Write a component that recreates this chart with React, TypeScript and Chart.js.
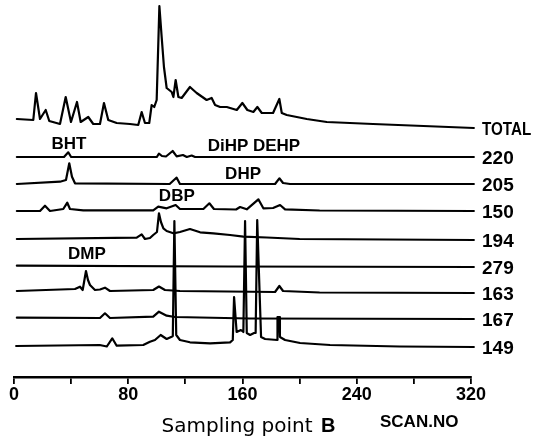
import { useEffect, useRef } from 'react';
import { Chart, registerables } from 'chart.js';

Chart.register(...registerables);

// Trace names (right-hand labels), top to bottom
const traceNames = ['TOTAL', '220', '205', '150', '194', '279', '163', '167', '149'];
// Baseline offset of each stacked trace (y units)
const traceOffsets = [249, 220, 193, 166, 137, 110, 84, 58, 30];

// [scan no, intensity above baseline]
const totalTrace = [[2,9],[13.5,8],[15.4,35],[18.2,9],[22.2,18],[24.7,7],[32.2,4],[36.2,31],[39.9,6],[44.1,26],[46.7,6],[52,11],[55.5,4],[60.2,4],[63,25],[66,8],[71.9,5],[81.2,4],[87,3],[89.4,16],[91.7,5],[94.7,5],[96.4,23],[98.2,21],[99.9,28],[101.8,122],[103.4,91],[105,61],[106.9,40],[110.4,36],[111.6,31],[113.2,48],[115.1,31],[117.4,30],[123.2,41],[127.9,35],[134.9,28],[138.4,30],[140.8,23],[144.3,21],[149,21],[156,18],[159.9,25],[163.4,18],[167.6,16],[170.4,21],[173.5,15],[181.4,15],[185.8,29],[187.5,15],[191,13],[205,9],[219,6],[251.4,4],[322,0]];
const trace220 = [[2,0],[35,0],[38,4.7],[40,0],[100,0],[101.5,3.3],[103.6,1],[106.4,0.5],[111.1,6],[113.9,0.7],[118.3,2],[121,0],[124.4,1.5],[126.8,0],[322,0]];
const trace205 = [[2,0],[32.2,2.3],[36.4,4],[38.7,20.7],[40.6,7.3],[42.7,0.7],[109,0],[112,4],[113.9,6.3],[116.2,0],[182.8,0],[185.8,5.7],[188.4,1],[193.3,0],[322,0]];
const trace150 = [[2,0],[18.2,0],[21.7,5.3],[25.2,0],[34.5,2],[37.3,8.3],[39.2,2],[48.5,0.7],[97.5,0.7],[101,4.3],[106.9,2.7],[113.2,6],[116.2,2],[132.6,2],[136.8,7.7],[140,2],[155.5,1.5],[158.3,4],[163,1.7],[171.1,11.7],[174.6,2.7],[181.4,3],[186.3,6],[189.8,1.7],[214,0.5],[322,0]];
const trace194 = [[2,1],[85.9,2.3],[89.4,5.7],[91.7,1],[95.2,2],[97.5,5],[100.1,8],[101.5,26.7],[102.9,18],[104.6,11.7],[106.9,9],[111.6,6.7],[116.2,8],[123.2,11],[130.3,7.7],[139.6,6.7],[151.3,5],[160.6,3.3],[177,2.5],[200,1],[322,0]];
const trace279 = [[2,1.3],[150,0.5],[322,0]];
const trace163 = [[2,2],[42.7,4],[46.2,6.3],[48.1,3],[50.4,22],[51.8,13],[53.2,8],[56.7,3],[60.2,3.5],[63.7,5.3],[67.2,2],[97.5,3],[101.5,6.5],[105.7,3],[116.2,2],[182.8,1],[185.8,7],[188.4,2],[214,0.5],[322,0]];
const trace167 = [[2,1.3],[60.2,1],[63.7,5.7],[67.2,1],[97.5,2.3],[101.5,7.3],[106.9,3.3],[112.7,2],[165,0.5],[322,0]];
const trace149 = [[1.5,1],[60,2],[65,0.5],[68.8,8.7],[71.9,1.3],[90.5,2],[95.2,5.3],[98.7,7],[102.7,12],[106.9,8],[110.4,10.3],[111.2,11],[112.3,126],[113.6,12],[116.2,7],[123.2,4.7],[137.3,3.7],[151.3,4.7],[153.2,7],[154.1,50],[155.9,15],[158.9,17],[160.6,15],[161.8,126],[163,14],[165.3,12],[168.1,14],[169.2,14],[170.3,127],[173,10],[175.8,8],[184.3,7],[184.5,30],[185.6,30],[186.2,10],[189.8,7],[200.3,4],[221.3,2],[270,0.5],[322,0]];

const traces = [totalTrace, trace220, trace205, trace150, trace194, trace279, trace163, trace167, trace149];

// Compound annotations: text, scan no, trace index
const peakTexts = ['BHT', 'DiHP DEHP', 'DHP', 'DBP', 'DMP'];
const peakScans = [38.5, 168, 160.4, 114, 51];
const peakTraceIdx = [1, 1, 2, 3, 5];
const peakLift = [13, 11, 10, 15, 13];

// X axis ticks
const xMin = 0;
const xMax = 320;
const xStep = 40;
const xLabelEvery = 80;

const bold = (size: number) => `bold ${size}px "Liberation Sans", Arial, sans-serif`;

const labelPlugin = {
  id: 'chromLabels',
  afterDraw(chart: any) {
    const { ctx, scales, chartArea } = chart;
    const x = scales.x;
    const y = scales.y;
    ctx.save();
    ctx.fillStyle = '#000';
    ctx.textBaseline = 'middle';
    ctx.textAlign = 'left';
    // right-hand trace labels
    traceNames.forEach((name, i) => {
      const py = y.getPixelForValue(traceOffsets[i]) + 1.5;
      ctx.font = bold(19);
      if (name === 'TOTAL') {
        ctx.save();
        ctx.translate(chartArea.right + 11, py);
        ctx.scale(0.8, 1);
        ctx.fillText(name, 0, 0);
        ctx.restore();
      } else {
        ctx.fillText(name, chartArea.right + 11, py);
      }
    });
    // compound labels
    ctx.textAlign = 'center';
    ctx.font = bold(17);
    peakTexts.forEach((t, i) => {
      const px = x.getPixelForValue(peakScans[i]);
      const py = y.getPixelForValue(traceOffsets[peakTraceIdx[i]]) - peakLift[i];
      ctx.fillText(t, px, py);
    });
    // bottom captions
    ctx.textAlign = 'left';
    ctx.textBaseline = 'alphabetic';
    ctx.font = '20px "DejaVu Sans", sans-serif';
    ctx.fillText('Sampling point', 161.5, 431.5);
    ctx.font = bold(20);
    ctx.fillText('B', 321, 432);
    ctx.font = bold(17);
    ctx.fillText('SCAN.NO', 380, 426.5);
    ctx.restore();
  },
};

export default function App() {
  const ref = useRef<HTMLCanvasElement>(null);
  useEffect(() => {
    const datasets = traces.map((t, i) => ({
      label: traceNames[i],
      data: t.map(([s, v]) => ({ x: s, y: traceOffsets[i] + v })),
      borderColor: '#000',
      backgroundColor: '#000',
      borderWidth: 2.2,
      borderJoinStyle: 'round' as const,
      borderCapStyle: 'round' as const,
      pointRadius: 0,
      tension: 0,
      fill: false,
      clip: false as const,
    }));
    const chart = new Chart(ref.current as HTMLCanvasElement, {
      type: 'line',
      data: { datasets },
      options: {
        responsive: false,
        animation: false,
        devicePixelRatio: 1,
        layout: { padding: { left: 14, right: 70, top: 5, bottom: 0 } },
        plugins: { legend: { display: false }, tooltip: { enabled: false } },
        scales: {
          x: {
            type: 'linear',
            min: xMin,
            max: xMax,
            afterFit: (s: any) => { s.height = 68; },
            border: { display: true, color: '#000', width: 2.5 },
            grid: { drawOnChartArea: false, drawTicks: true, tickLength: 7, color: '#000', lineWidth: 1.8 },
            ticks: {
              stepSize: xStep,
              autoSkip: false,
              maxRotation: 0,
              padding: 0,
              color: '#000',
              font: { family: '"Liberation Sans", Arial, sans-serif', size: 18, weight: 'bold' },
              callback: (v: any) => (Number(v) % xLabelEvery === 0 ? String(v) : ''),
            },
          },
          y: { display: false, min: 0, max: 372 },
        },
      },
      plugins: [labelPlugin],
    });
    return () => chart.destroy();
  }, []);
  return (
    <div style={{ position: 'absolute', left: 0, top: 0, width: 541, height: 445, background: '#fff' }}>
      <canvas ref={ref} width={541} height={445} style={{ display: 'block' }} />
    </div>
  );
}
